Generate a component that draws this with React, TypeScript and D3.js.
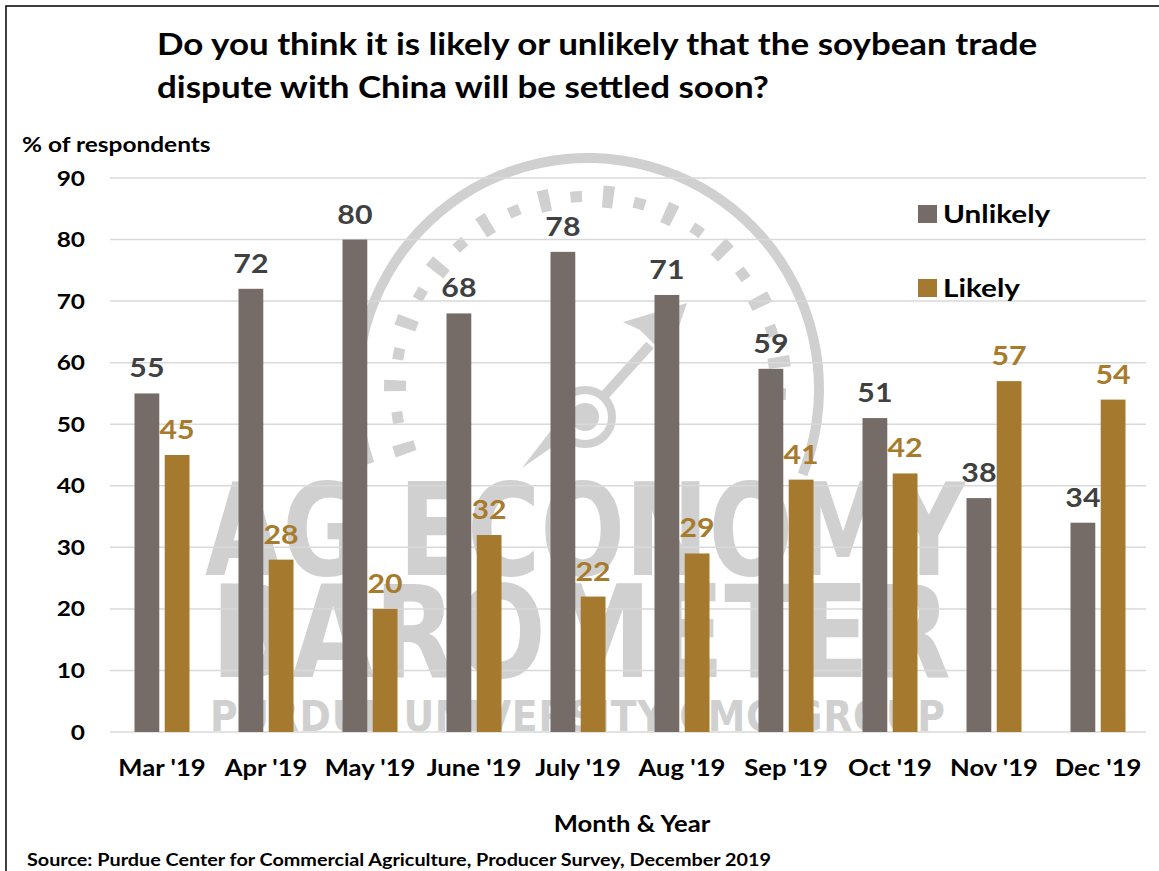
import React from "react";
import * as d3 from "d3";

const categories = ["Mar '19", "Apr '19", "May '19", "June '19", "July '19", "Aug '19", "Sep '19", "Oct '19", "Nov '19", "Dec '19"];
const seriesNames = ["Unlikely", "Likely"];
const unlikely = [55, 72, 80, 68, 78, 71, 59, 51, 38, 34];
const likely = [45, 28, 20, 32, 22, 29, 41, 42, 57, 54];
const yTicks = [0, 10, 20, 30, 40, 50, 60, 70, 80, 90];

const W = 1159;
const H = 871;
const FONT = "Lato, 'Open Sans', sans-serif";
const SX = 1.165;
const GREY = "#756C67";
const GOLD = "#A57A2E";
const GOLD_TEXT = "#A87B2C";
const WM = "#D0D0D0";
const WMFONT = "'Liberation Sans Narrow', 'DejaVu Sans Condensed', 'DejaVu Sans', sans-serif";

type TP = { x: number; y: number; size: number; anchor?: string; fill?: string; children: React.ReactNode };
function T({ x, y, size, anchor = "start", fill = "#000", children }: TP) {
  return (
    <text transform={`translate(${x},${y}) scale(${SX},1)`} textAnchor={anchor} fontSize={size} fontWeight="bold" fill={fill}>
      {children}
    </text>
  );
}

export default function App() {
  const x = d3.scaleBand<string>().domain(categories).range([110, 1150]).paddingInner(0).paddingOuter(0);
  const bw = x.bandwidth();
  const xs = d3.scaleBand<string>().domain(seriesNames).range([bw / 2 - 27.5, bw / 2 + 27.5]).paddingInner(0.18);
  const y = d3.scaleLinear().domain([0, 90]).range([732, 178]);
  const seriesVals: Record<string, number[]> = { Unlikely: unlikely, Likely: likely };
  const colors: Record<string, string> = { Unlikely: GREY, Likely: GOLD };
  const labelColors: Record<string, string> = { Unlikely: "#404040", Likely: GOLD_TEXT };

  // watermark gauge (decorative)
  const cx = 588, cy = 389;
  const ring = d3.arc()({ innerRadius: 226, outerRadius: 236, startAngle: -1.9, endAngle: 1.95 }) as string;
  const dashAngles = d3.range(-108, 101, 9.5);
  const arcGen = d3.arc();

  return (
    <svg width={W} height={H} style={{ position: "absolute", left: 0, top: 0, background: "#fff" }} fontFamily={FONT}>
      <rect x={0} y={0} width={W} height={H} fill="#fff" />
      <rect x={6} y={6} width={W + 20} height={H + 20} fill="none" stroke="#000" strokeWidth={1.5} />

      {/* watermark */}
      <g fill={WM} stroke="none">
        <path d={ring} transform={`translate(${cx},${cy})`} />
        {dashAngles.map((a, i) => {
          const r0 = i % 2 === 0 ? 182 : 187;
          const r1 = i % 2 === 0 ? 204 : 198;
          const rad = (a * Math.PI) / 180;
          const half = i % 2 === 0 ? 0.028 : 0.03;
          const d = arcGen({ innerRadius: r0, outerRadius: r1, startAngle: rad - half, endAngle: rad + half }) as string;
          return <path key={i} d={d} transform={`translate(${cx},${cy})`} />;
        })}
        <circle cx={585} cy={417} r={27} fill="none" stroke={WM} strokeWidth={8} />
        <circle cx={585} cy={417} r={14} />
        <line x1={603} y1={397} x2={650} y2={345} stroke={WM} strokeWidth={10} />
        <polygon points="687,303 623,322 640,330 660,350 668,358" />
        <polygon points="522,468 568,436 556,424" />
        <text x={205} y={575} fontFamily={WMFONT} fontWeight="bold" fontSize={128} textLength={760} lengthAdjust="spacingAndGlyphs">AG ECONOMY</text>
        <text x={211} y={677} fontFamily={WMFONT} fontWeight="bold" fontSize={128} textLength={740} lengthAdjust="spacingAndGlyphs">BAROMETER</text>
        <text x={210} y={731} fontFamily={WMFONT} fontWeight="bold" fontSize={42} textLength={735} lengthAdjust="spacing">PURDUE UNIVERSITY CMG GROUP</text>
      </g>

      {/* title */}
      <T x={157} y={55} size={30}>Do you think it is likely or unlikely that the soybean trade</T>
      <T x={157} y={98} size={30}>dispute with China will be settled soon?</T>
      <T x={22} y={152} size={21}>% of respondents</T>

      {/* gridlines and y axis */}
      {yTicks.map((t) => (
        <g key={t}>
          <line x1={110} x2={1146} y1={y(t)} y2={y(t)} stroke="#D9D9D9" strokeWidth={1.5} />
          <T x={85} y={y(t) + 7.5} size={21} anchor="end">{t}</T>
        </g>
      ))}

      {/* bars */}
      {categories.map((c, i) => (
        <g key={c} transform={`translate(${x(c)},0)`}>
          {seriesNames.map((s) => {
            const v = seriesVals[s][i];
            const bx = xs(s) as number;
            return (
              <g key={s}>
                <rect x={bx} y={y(v)} width={xs.bandwidth()} height={y(0) - y(v)} fill={colors[s]} />
                <T x={bx + xs.bandwidth() / 2} y={y(v) - 16} size={26} anchor="middle" fill={labelColors[s]}>{v}</T>
              </g>
            );
          })}
          <T x={bw / 2} y={776} size={22} anchor="middle">{c}</T>
        </g>
      ))}

      {/* legend */}
      {seriesNames.map((s, i) => (
        <g key={s} transform={`translate(918,${205 + i * 74})`}>
          <rect x={0} y={0} width={19} height={18} fill={colors[s]} />
          <T x={25} y={18} size={25.5}>{s}</T>
        </g>
      ))}

      <T x={632} y={832} size={22} anchor="middle">Month &amp; Year</T>
      <T x={27} y={866} size={17}>Source: Purdue Center for Commercial Agriculture, Producer Survey, December 2019</T>
    </svg>
  );
}
